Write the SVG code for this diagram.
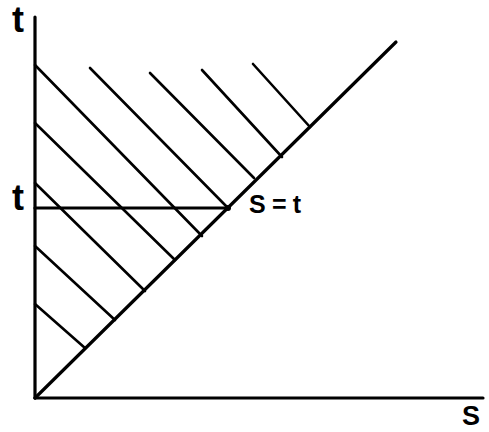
<svg xmlns="http://www.w3.org/2000/svg" width="489" height="432" viewBox="0 0 489 432">
<style>
.ax{stroke:#000;stroke-width:3.2;fill:none;stroke-linecap:round}
.h{stroke:#000;stroke-width:2.6;fill:none;stroke-linecap:round}
.lbl{font-family:"Liberation Sans",Arial,sans-serif;font-weight:bold;fill:#000}
</style>
<rect width="489" height="432" fill="#fff"/>
<g id="axes">
<line class="ax" x1="35" y1="17" x2="35" y2="398"/>
<line class="ax" x1="35" y1="398" x2="483" y2="398"/>
<line class="ax" x1="35" y1="398" x2="396" y2="42"/>
</g>
<g id="hatching">
<line class="h" x1="253" y1="64" x2="310" y2="127"/>
<line class="h" x1="202" y1="70" x2="282" y2="157"/>
<line class="h" x1="150" y1="73" x2="254" y2="178"/>
<line class="h" x1="90" y1="68" x2="228" y2="208"/>
<line class="h" x1="35" y1="65" x2="202" y2="236"/>
<line class="h" x1="35" y1="123" x2="175" y2="260"/>
<line class="h" x1="35" y1="183" x2="145" y2="291"/>
<line class="h" x1="35" y1="246" x2="115" y2="320"/>
<line class="h" x1="35" y1="304" x2="85" y2="348"/>
</g>
<g id="level">
<line class="ax" x1="35" y1="208" x2="228" y2="208"/>
<circle cx="228" cy="208" r="3" fill="#000"/>
</g>
<g id="labels">
<text class="lbl" x="12" y="32" font-size="36">t</text>
<text class="lbl" x="12" y="210" font-size="36">t</text>
<text class="lbl" x="249" y="213" font-size="25" textLength="52" lengthAdjust="spacing">S=t</text>
<text class="lbl" x="462" y="425" font-size="27">S</text>
</g>
</svg>
